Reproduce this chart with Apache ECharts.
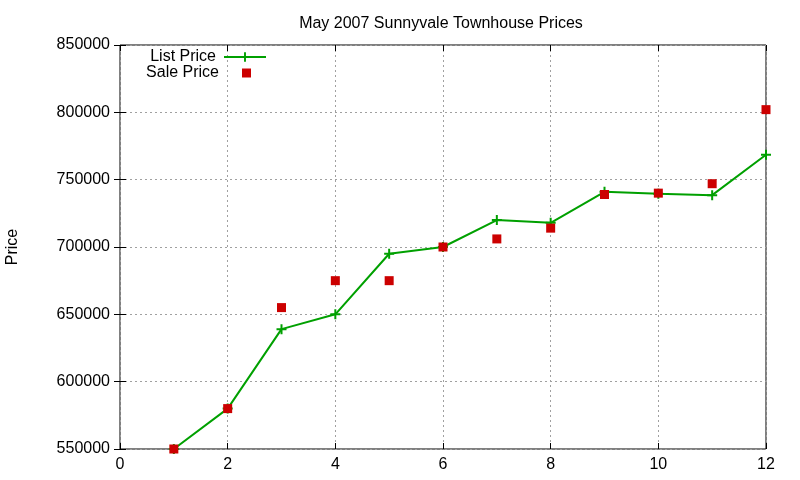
<!DOCTYPE html>
<html>
<head>
<meta charset="utf-8">
<script src="https://cdn.jsdelivr.net/npm/echarts@6/dist/echarts.min.js"></script>
<style>
  html, body { margin: 0; padding: 0; background: #fff; }
  #chart { width: 800px; height: 480px; }
</style>
</head>
<body>
<div id="chart"></div>
<script>
  // month index (x) and prices
  const months = [1, 2, 3, 4, 5, 6, 7, 8, 9, 10, 11, 12];
  const listPrice = [550000, 580000, 639000, 650000, 695000, 700000, 720000, 718000, 741000, 739500, 738500, 768500];
  const salePrice = [550000, 580000, 655000, 675000, 675000, 700000, 706000, 714000, 739000, 740000, 747000, 802000];

  const plusPath = 'path://M4,0 L6,0 L6,4 L10,4 L10,6 L6,6 L6,10 L4,10 L4,6 L0,6 L0,4 L4,4 Z';
  const font = 'Liberation Sans, Arial, sans-serif';

  const chart = echarts.init(document.getElementById('chart'));

  const gridLine = { show: true, lineStyle: { color: '#a0a0a0', type: [2, 3], width: 1 } };
  const innerTick = { show: true, inside: true, length: 6, lineStyle: { color: '#000' } };

  chart.setOption({
    animation: false,
    title: {
      text: 'May 2007 Sunnyvale Townhouse Prices',
      left: 436, top: 11, textAlign: 'center',
      textStyle: { fontFamily: font, fontSize: 16, fontWeight: 'normal', color: '#000' }
    },
    // gnuplot-style key: text on the left, sample on the right
    legend: [{
      orient: 'vertical',
      right: 528, top: 44,
      align: 'right',
      itemWidth: 42,
      itemHeight: 12,
      textStyle: { fontFamily: font, fontSize: 16, color: '#000', padding: [0, 3, 0, 0] },
      data: ['List Price']
    }, {
      orient: 'vertical',
      right: 544, top: 60,
      align: 'right',
      itemWidth: 9,
      itemHeight: 9,
      textStyle: { fontFamily: font, fontSize: 16, color: '#000', padding: [0, 18, 0, 0] },
      data: ['Sale Price']
    }],
    grid: {
      left: 120, right: 34, top: 45, bottom: 31,
      outerBoundsMode: 'none',
      show: true, borderColor: '#000', borderWidth: 1, backgroundColor: '#fff'
    },
    xAxis: [{
      type: 'value', min: 0, max: 12, interval: 2,
      axisLine: { show: false },
      axisTick: innerTick,
      axisLabel: { fontFamily: font, fontSize: 16, color: '#000', margin: 8 },
      splitLine: gridLine
    }, {
      type: 'value', min: 0, max: 12, interval: 2, position: 'top',
      axisLine: { show: false },
      axisTick: innerTick,
      axisLabel: { show: false },
      splitLine: { show: false }
    }],
    yAxis: [{
      type: 'value', min: 550000, max: 850000, interval: 50000,
      name: 'Price', nameLocation: 'middle', nameRotate: 90, nameGap: 99,
      nameTextStyle: { fontFamily: font, fontSize: 16, color: '#000' },
      axisLine: { show: false },
      axisTick: innerTick,
      axisLabel: { fontFamily: font, fontSize: 16, color: '#000', margin: 10, formatter: v => String(v) },
      splitLine: gridLine
    }, {
      type: 'value', min: 550000, max: 850000, interval: 50000, position: 'right',
      axisLine: { show: false },
      axisTick: innerTick,
      axisLabel: { show: false },
      splitLine: { show: false }
    }],
    series: [{
      name: 'List Price',
      type: 'line',
      data: months.map((m, i) => [m, listPrice[i]]),
      symbol: plusPath,
      symbolSize: 10,
      showAllSymbol: true,
      lineStyle: { color: '#00a000', width: 2 },
      itemStyle: { color: '#00a000' },
      z: 3
    }, {
      name: 'Sale Price',
      type: 'scatter',
      data: months.map((m, i) => [m, salePrice[i]]),
      symbol: 'rect',
      symbolSize: 9,
      itemStyle: { color: '#cc0000', opacity: 1 },
      z: 4
    }]
  });
</script>
</body>
</html>
